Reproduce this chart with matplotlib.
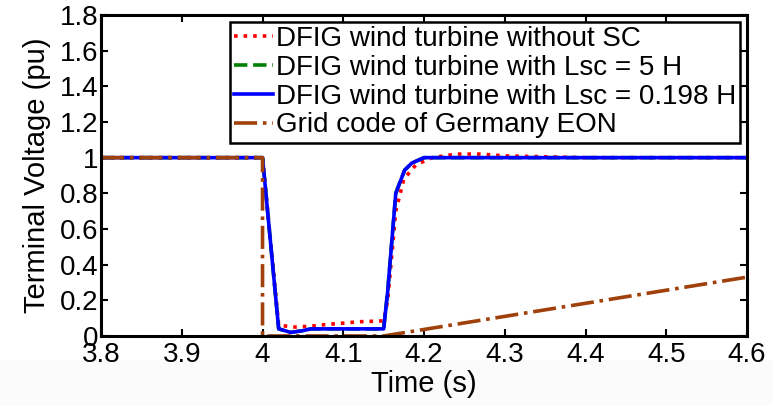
import numpy as np
import matplotlib.pyplot as plt
from matplotlib.patches import Rectangle

plt.rcParams['font.family'] = ['Liberation Sans', 'DejaVu Sans']

# terminal voltage without supercapacitor
t_nosc = [3.8, 4.0, 4.02, 4.03, 4.04, 4.06, 4.08, 4.10, 4.12, 4.14, 4.15, 4.155,
          4.165, 4.175, 4.19, 4.21, 4.24, 4.27, 4.30, 4.35, 4.4, 4.6]
v_nosc = [1.0, 1.0, 0.06, 0.055, 0.05, 0.055, 0.065, 0.072, 0.08, 0.083, 0.085, 0.2,
          0.7, 0.88, 0.96, 1.0, 1.02, 1.02, 1.01, 1.005, 1.0, 1.0]

# terminal voltage with supercapacitor (Lsc = 5 H and Lsc = 0.198 H overlap)
t_sc = [3.8, 4.0, 4.02, 4.035, 4.05, 4.06, 4.10, 4.15, 4.155, 4.165, 4.17,
        4.176, 4.185, 4.2, 4.25, 4.3, 4.6]
v_sc = [1.0, 1.0, 0.04, 0.02, 0.03, 0.04, 0.04, 0.04, 0.25, 0.8, 0.86,
        0.93, 0.97, 1.0, 1.0, 1.0, 1.0]

# E.ON grid code limit
t_eon = [3.8, 4.0, 4.0, 4.15, 4.6]
v_eon = [1.0, 1.0, 0.0, 0.0, 0.33]

fig = plt.figure(figsize=(7.73, 4.05), dpi=100)
# faint band at the bottom of the figure
fig.patches.append(Rectangle((0, 0), 1, 0.11, transform=fig.transFigure,
                             facecolor='#fbfbfb', edgecolor='none', zorder=-10))
ax = fig.add_axes([0.1307, 0.1704, 0.8357, 0.7926])

ax.plot(t_nosc, v_nosc, ':', color='red', lw=2.6, label='DFIG wind turbine without SC')
ax.plot(t_sc, v_sc, '--', color='green', lw=2.6, label='DFIG wind turbine with Lsc = 5 H')
ax.plot(t_sc, v_sc, '-', color='blue', lw=2.6, label='DFIG wind turbine with Lsc = 0.198 H')
ax.plot(t_eon, v_eon, '-.', color='#a0400a', lw=2.6, label='Grid code of Germany EON')

ax.set_xlim(3.8, 4.6)
ax.set_ylim(0, 1.8)
ax.set_xticks(np.arange(3.8, 4.61, 0.1))
ax.set_xticklabels(['3.8', '3.9', '4', '4.1', '4.2', '4.3', '4.4', '4.5', '4.6'])
ax.set_yticks(np.arange(0, 1.81, 0.2))
ax.set_yticklabels(['0', '0.2', '0.4', '0.6', '0.8', '1', '1.2', '1.4', '1.6', '1.8'])
ax.tick_params(direction='in', top=True, right=True, labelsize=20, width=1.5, length=5)
ax.tick_params(axis='x', pad=4)
ax.tick_params(axis='y', pad=2)
for s in ax.spines.values():
    s.set_linewidth(2.2)

ax.set_xlabel('Time (s)', fontsize=21, labelpad=2)
ax.set_ylabel('Terminal Voltage (pu)', fontsize=21, labelpad=6)

leg = ax.legend(loc='upper right', fontsize=20, frameon=True, fancybox=False,
                edgecolor='black', handlelength=1.4, handletextpad=0.1,
                borderpad=0.15, labelspacing=0.1, borderaxespad=0.25,
                framealpha=1)
leg.get_frame().set_linewidth(1.8)

fig.savefig('out.png', dpi=100)
